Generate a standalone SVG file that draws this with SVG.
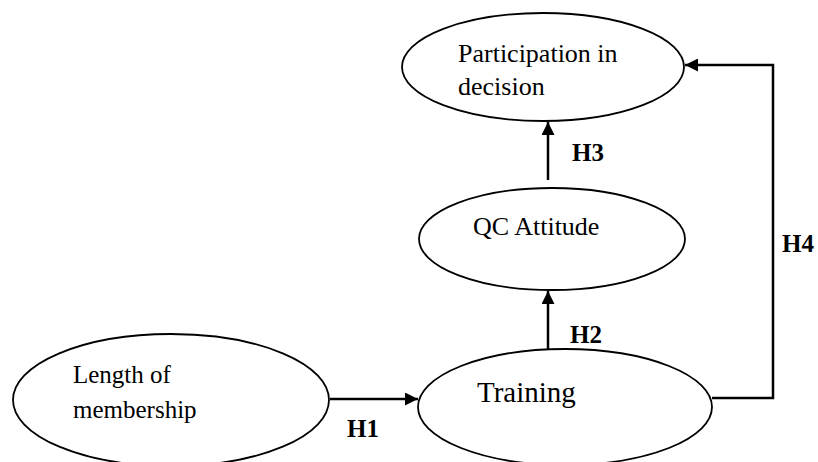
<svg xmlns="http://www.w3.org/2000/svg" width="818" height="462" viewBox="0 0 818 462">
<style>
.node{fill:#fff;stroke:#000;stroke-width:1.8}
.t{font-family:"Liberation Serif","Times New Roman",serif;fill:#000}
.h{font-family:"Liberation Serif","Times New Roman",serif;font-weight:bold;font-size:25px;fill:#000}
.c{fill:none;stroke:#000;stroke-width:2.5}
</style>
<defs>
<marker id="arr" viewBox="0 0 10 10" refX="10" refY="5" markerWidth="13" markerHeight="13" markerUnits="userSpaceOnUse" orient="auto">
<path d="M0,0 L10,5 L0,10 Z" fill="#000"/>
</marker>
</defs>
<rect width="818" height="462" fill="#fff"/>
<g id="connectors">
<line class="c" x1="330" y1="399" x2="418" y2="399" marker-end="url(#arr)"/>
<line class="c" x1="548" y1="349" x2="548" y2="291" marker-end="url(#arr)"/>
<line class="c" x1="548" y1="180" x2="548" y2="122" marker-end="url(#arr)"/>
<polyline class="c" points="712,398 773,398 773,65 685,65" marker-end="url(#arr)"/>
<text class="h" x="347" y="437">H1</text>
<text class="h" x="570" y="343">H2</text>
<text class="h" x="572" y="161">H3</text>
<text class="h" x="782" y="252">H4</text>
</g>
<g id="participation">
<ellipse class="node" cx="543" cy="67" rx="141" ry="54"/>
<text class="t" x="458" y="62" font-size="26">Participation in</text>
<text class="t" x="458" y="95" font-size="26">decision</text>
</g>
<g id="qc-attitude">
<ellipse class="node" cx="552" cy="239" rx="133" ry="51"/>
<text class="t" x="473" y="235" font-size="26">QC Attitude</text>
</g>
<g id="training">
<ellipse class="node" cx="565" cy="407" rx="147" ry="58"/>
<text class="t" x="477" y="402" font-size="29">Training</text>
</g>
<g id="length">
<ellipse class="node" cx="171" cy="400" rx="158" ry="66"/>
<text class="t" x="73" y="383" font-size="25">Length of</text>
<text class="t" x="73" y="418" font-size="25">membership</text>
</g>
</svg>
